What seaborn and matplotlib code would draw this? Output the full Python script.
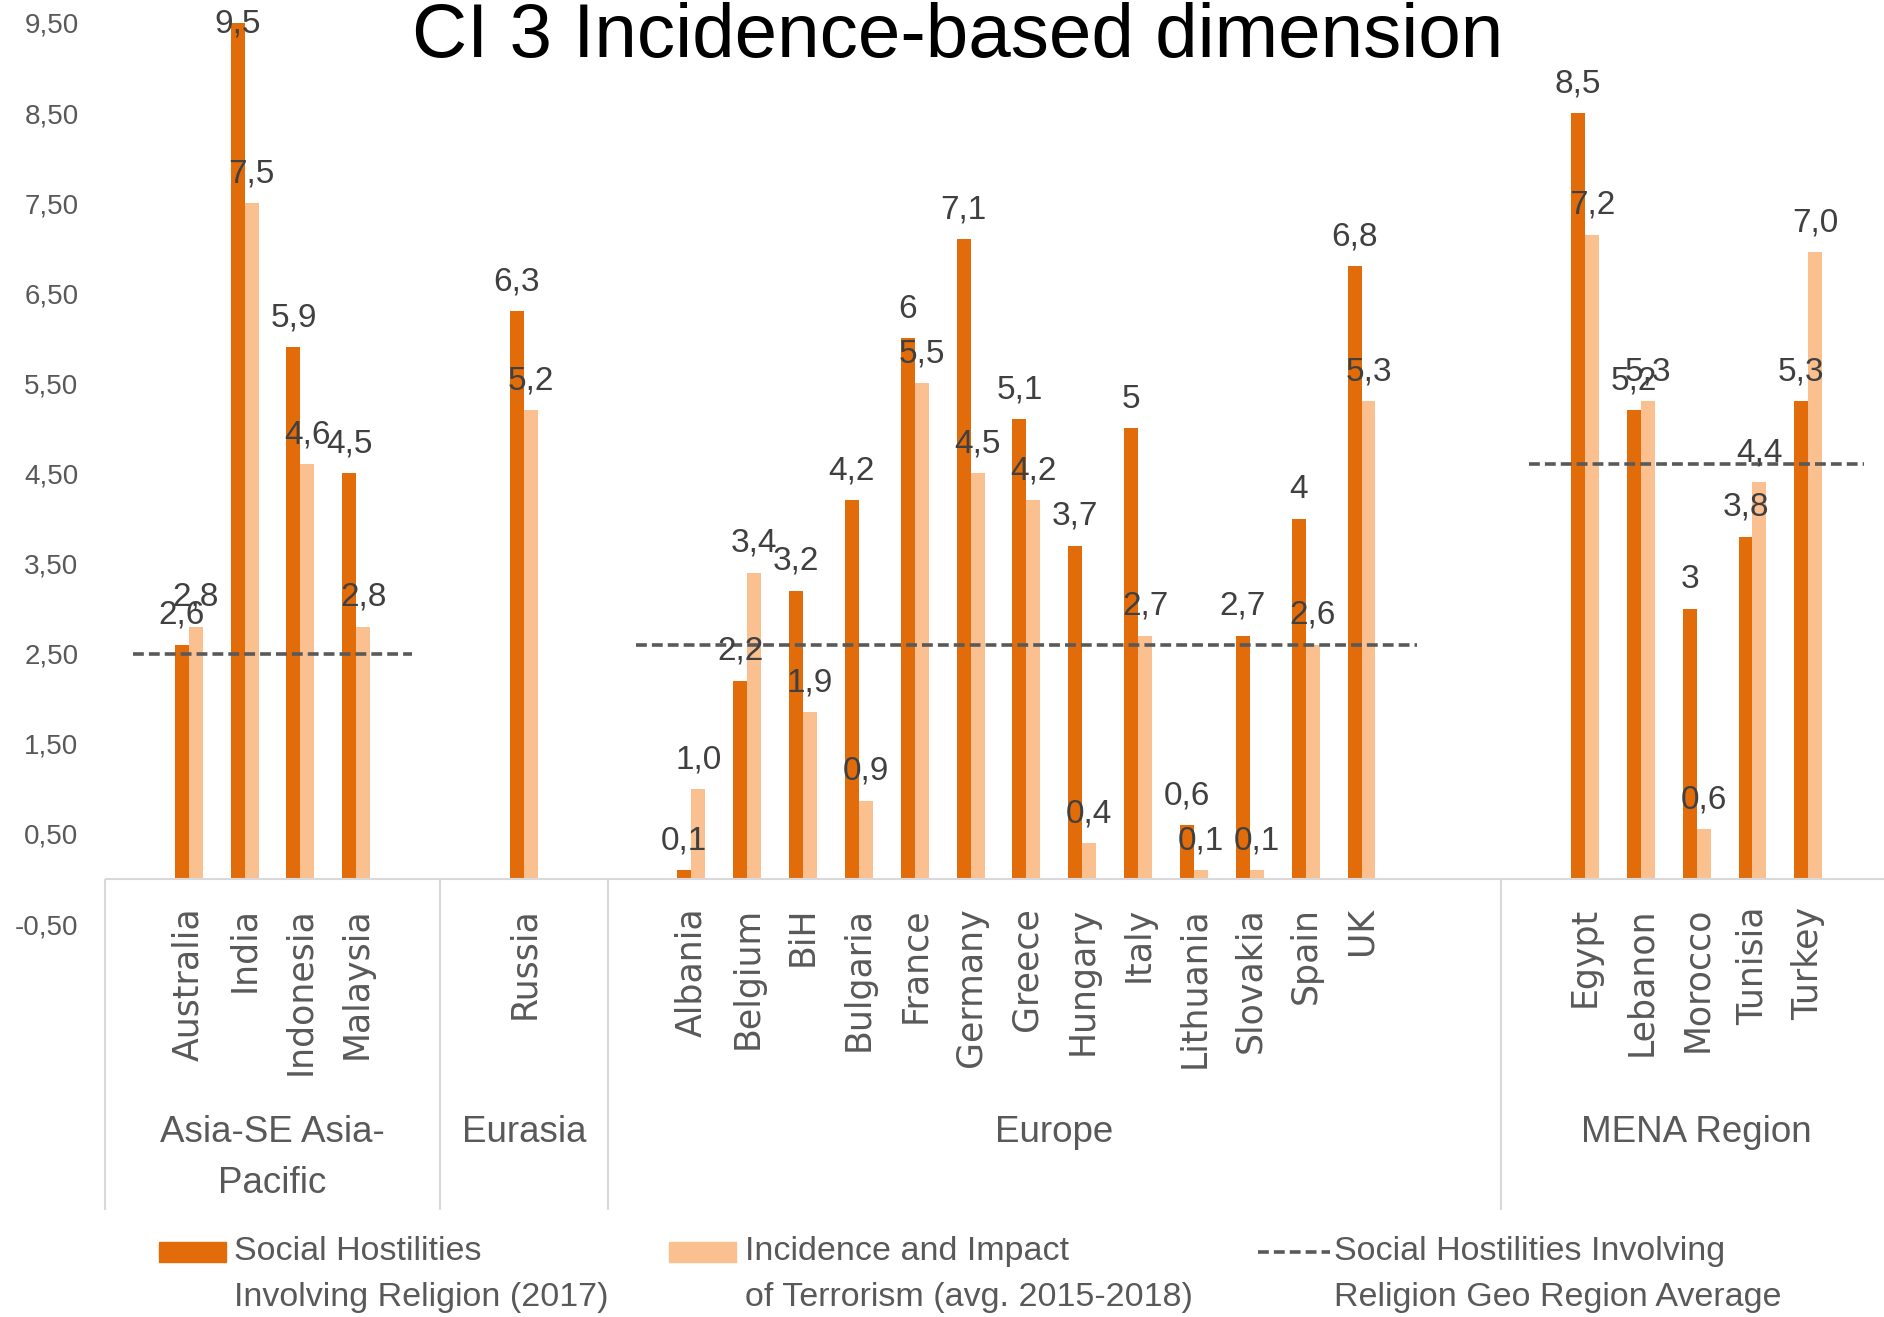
import numpy as np
import pandas as pd
import matplotlib
matplotlib.use('Agg')
import matplotlib.pyplot as plt
from matplotlib.patches import Rectangle
from matplotlib.lines import Line2D
import seaborn as sns

# category slots as laid out in the source sheet ('' = blank row)
slots = ['', 'Australia', 'India', 'Indonesia', 'Malaysia', '',
         '', 'Russia', '',
         '', 'Albania', 'Belgium', 'BiH', 'Bulgaria', 'France', 'Germany',
         'Greece', 'Hungary', 'Italy', 'Lithuania', 'Slovakia', 'Spain', 'UK', '', '',
         '', 'Egypt', 'Lebanon', 'Morocco', 'Tunisia', 'Turkey', '']
regions = ['Asia-SE Asia-\nPacific', 'Eurasia', 'Europe', 'MENA Region']
region_sizes = [6, 3, 16, 7]

social = [2.6, 9.5, 5.9, 4.5,
          6.3,
          0.1, 2.2, 3.2, 4.2, 6.0, 7.1, 5.1, 3.7, 5.0, 0.6, 2.7, 4.0, 6.8,
          8.5, 5.2, 3.0, 3.8, 5.3]
social_lbl = ['2,6', '9,5', '5,9', '4,5',
              '6,3',
              '0,1', '2,2', '3,2', '4,2', '6', '7,1', '5,1', '3,7', '5', '0,6', '2,7', '4', '6,8',
              '8,5', '5,2', '3', '3,8', '5,3']
terror = [2.8, 7.5, 4.6, 2.8,
          5.2,
          1.0, 3.4, 1.85, 0.87, 5.5, 4.5, 4.2, 0.4, 2.7, 0.1, 0.1, 2.6, 5.3,
          7.15, 5.3, 0.55, 4.4, 6.96]
terror_lbl = ['2,8', '7,5', '4,6', '2,8',
              '5,2',
              '1,0', '3,4', '1,9', '0,9', '5,5', '4,5', '4,2', '0,4', '2,7', '0,1', '0,1', '2,6', '5,3',
              '7,2', '5,3', '0,6', '4,4', '7,0']

nan = np.nan
region_avg = [2.5] * 6 + [nan] * 3 + [2.6] * 15 + [nan] + [4.6] * 7

s1 = 'Social Hostilities\nInvolving Religion (2017)'
s2 = 'Incidence and Impact\nof Terrorism (avg. 2015-2018)'
s3 = 'Social Hostilities Involving\nReligion Geo Region Average'
c1 = '#E36C0A'
c2 = '#FAC090'
grey = '#595959'

sns.set_style('white')
plt.rcParams['font.family'] = ['Liberation Sans', 'DejaVu Sans']

countries = [s for s in slots if s]
slot_of = {s: i for i, s in enumerate(slots) if s}
order = [f's{i}' for i in range(len(slots))]
df = pd.DataFrame({
    'slot': [f's{slot_of[c]}' for c in countries] * 2,
    'value': social + terror,
    'series': [s1] * len(countries) + [s2] * len(countries),
})

fig = plt.figure(figsize=(18.84, 13.17), dpi=100)
ax = fig.add_axes([0.0557, 0.2984, 0.9486, 0.6979])

sns.barplot(data=df, x='slot', y='value', hue='series', order=order,
            hue_order=[s1, s2], palette=[c1, c2], width=0.5, saturation=1,
            linewidth=0, legend=False, ax=ax)

# region averages as dashed segments
avg = np.array(region_avg)
start = 0
for size in region_sizes:
    xs = np.arange(start, start + size)
    ys = avg[start:start + size]
    m = ~np.isnan(ys)
    if m.sum() > 1:
        ax.plot(xs[m], ys[m], color=grey, lw=2.6, ls=(0, (3, 1.4)), zorder=3)
    start += size

# data labels
for c, v1, l1, v2, l2 in zip(countries, social, social_lbl, terror, terror_lbl):
    x = slot_of[c]
    for dx, v, l in [(-0.125, v1, l1), (0.125, v2, l2)]:
        ax.text(x + dx, min(v + 0.23, 9.39), l, ha='center', va='baseline',
                fontsize=24, color='#404040', zorder=4)

# country labels
for c in countries:
    ax.text(slot_of[c], -0.31, c, rotation=90, ha='center', va='top',
            fontsize=25, family='DejaVu Sans', color=grey, clip_on=False)

# region labels and separators
edges = np.concatenate([[0], np.cumsum(region_sizes)]) - 0.5
for r, a, b in zip(regions, edges[:-1], edges[1:]):
    ax.text((a + b) / 2, -2.62, r, ha='center', va='top', fontsize=26.5,
            color=grey, linespacing=1.6, clip_on=False)
ax.vlines(edges, -3.67, 0, colors='#D9D9D9', lw=1.5, clip_on=False)
ax.axhline(0, color='#D9D9D9', lw=1.5, zorder=1)

ax.set_xlim(-0.5, len(slots) - 0.5)
ax.set_ylim(-0.5, 9.7)
yt = np.arange(-0.5, 9.51, 1.0)
ax.set_yticks(yt)
ax.set_yticklabels([f'{v:.2f}'.replace('.', ',') for v in yt])
ax.tick_params(axis='y', length=0, pad=19, labelsize=20, labelcolor=grey)
ax.set_xticks([])
ax.set_xlabel('')
ax.set_ylabel('')
for sp in ax.spines.values():
    sp.set_visible(False)

fig.text(0.5083, 0.957, 'CI 3 Incidence-based dimension', ha='center',
         va='baseline', fontsize=55, color='black')

# legend
for px, col in [(0.0842, c1), (0.3552, c2)]:
    fig.patches.append(Rectangle((px, 0.0421), 0.0357, 0.0146, color=col,
                                 transform=fig.transFigure))
fig.lines.append(Line2D([0.6677, 0.7059], [0.0494, 0.0494], color=grey, lw=2.6,
                        ls=(0, (3, 1.4)), transform=fig.transFigure))
for tx, label in [(0.1244, s1), (0.3954, s2), (0.7079, s3)]:
    l1, l2 = label.split('\n')
    fig.text(tx, 0.0494, l1, ha='left', va='center', fontsize=24.5, color=grey)
    fig.text(tx, 0.0147, l2, ha='left', va='center', fontsize=24.5, color=grey)

fig.savefig('out.png', dpi=100)
